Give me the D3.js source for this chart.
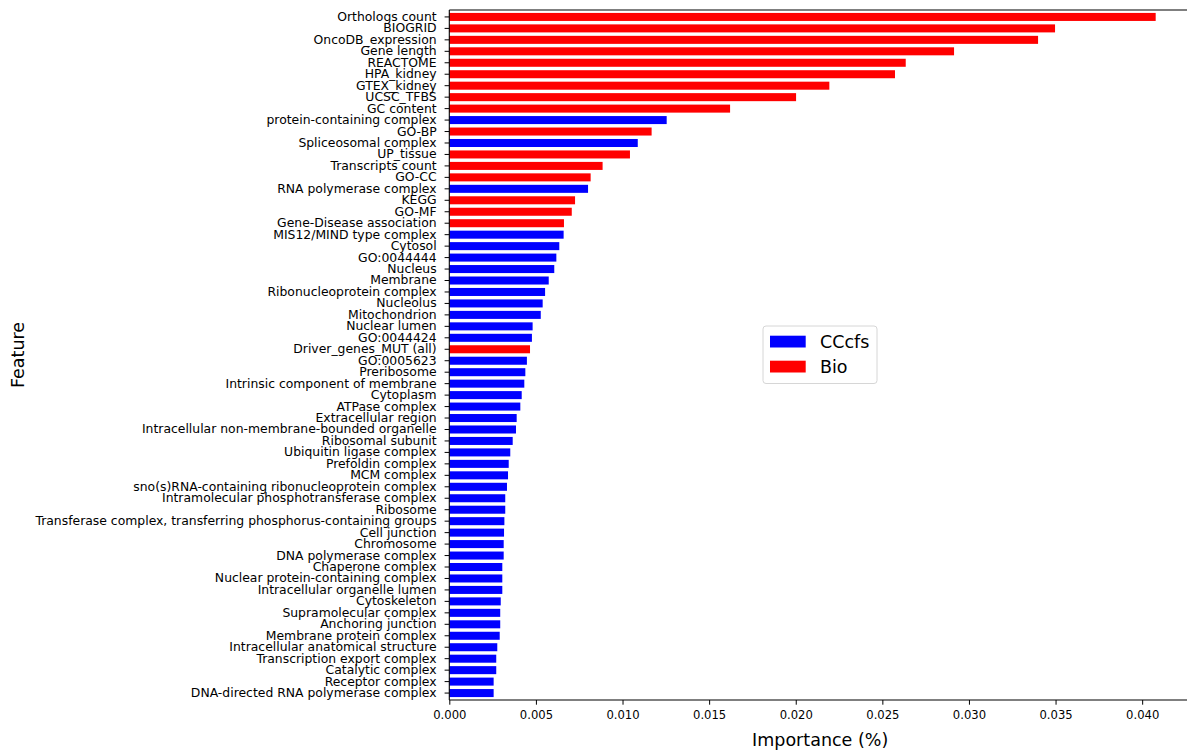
<!DOCTYPE html>
<html>
<head>
<meta charset="utf-8">
<script src="https://cdn.jsdelivr.net/npm/d3@7"></script>
<style>
    body { margin: 0; background: #fff; }
    svg { font-family: "DejaVu Sans", sans-serif; display: block; }
</style>
</head>
<body>
<svg id="chart"></svg>
<script>
const features = [
    'Orthologs count', 'BIOGRID', 'OncoDB_expression', 'Gene length', 'REACTOME',
    'HPA_kidney', 'GTEX_kidney', 'UCSC_TFBS', 'GC content', 'protein-containing complex',
    'GO-BP', 'Spliceosomal complex', 'UP_tissue', 'Transcripts count', 'GO-CC',
    'RNA polymerase complex', 'KEGG', 'GO-MF', 'Gene-Disease association', 'MIS12/MIND type complex',
    'Cytosol', 'GO:0044444', 'Nucleus', 'Membrane', 'Ribonucleoprotein complex',
    'Nucleolus', 'Mitochondrion', 'Nuclear lumen', 'GO:0044424', 'Driver_genes_MUT (all)',
    'GO:0005623', 'Preribosome', 'Intrinsic component of membrane', 'Cytoplasm', 'ATPase complex',
    'Extracellular region', 'Intracellular non-membrane-bounded organelle', 'Ribosomal subunit', 'Ubiquitin ligase complex', 'Prefoldin complex',
    'MCM complex', 'sno(s)RNA-containing ribonucleoprotein complex', 'Intramolecular phosphotransferase complex', 'Ribosome', 'Transferase complex, transferring phosphorus-containing groups',
    'Cell junction', 'Chromosome', 'DNA polymerase complex', 'Chaperone complex', 'Nuclear protein-containing complex',
    'Intracellular organelle lumen', 'Cytoskeleton', 'Supramolecular complex', 'Anchoring junction', 'Membrane protein complex',
    'Intracellular anatomical structure', 'Transcription export complex', 'Catalytic complex', 'Receptor complex', 'DNA-directed RNA polymerase complex'
];

const importance = [
    0.04078, 0.03497, 0.03399, 0.02914, 0.02635,
    0.02573, 0.02194, 0.02002, 0.01621, 0.01255,
    0.01168, 0.01088, 0.01043, 0.00885, 0.00816,
    0.00801, 0.00726, 0.00707, 0.00662, 0.00660,
    0.00635, 0.00618, 0.00606, 0.00574, 0.00553,
    0.00539, 0.00528, 0.00481, 0.00477, 0.00466,
    0.00448, 0.00439, 0.00433, 0.00418, 0.00410,
    0.00389, 0.00385, 0.00366, 0.00352, 0.00343,
    0.00339, 0.00333, 0.00323, 0.00323, 0.00318,
    0.00316, 0.00314, 0.00314, 0.00306, 0.00306,
    0.00306, 0.00297, 0.00294, 0.00294, 0.00291,
    0.00277, 0.00271, 0.00271, 0.00256, 0.00256
];

// B = Bio, C = CCcfs
const groups = 'BBBBBBBBBCBCBBBCBBBCCCCCCCCCCBCCCCCCCCCCCCCCCCCCCCCCCCCCCCCC'.split('');

const groupNames = ['CCcfs', 'Bio'];
const groupColors = ['#0000ff', '#ff0000'];
const xTicks = [0, 0.005, 0.010, 0.015, 0.020, 0.025, 0.030, 0.035, 0.040];

const data = features.map((f, i) => ({
    feature: f,
    value: importance[i],
    group: groups[i] === 'C' ? 'CCcfs' : 'Bio'
}));

const W = 1187, H = 752;
const frame = {left: 449.3, top: 10, bottom: 700, right: 1191};

const svg = d3.select('#chart')
    .attr('width', W)
    .attr('height', H);

const xscale = d3.scaleLinear()
    .domain([0, d3.max(importance) * 1.05])
    .range([frame.left, frame.right]);

const yscale = d3.scaleBand()
    .domain(features)
    .range([frame.top, frame.bottom])
    .paddingInner(0.3)
    .paddingOuter(0.255);

const color = d3.scaleOrdinal()
    .domain(groupNames)
    .range(groupColors);

// bars
svg.append('g')
    .selectAll('rect')
    .data(data)
    .join('rect')
    .attr('x', xscale(0))
    .attr('y', d => yscale(d.feature))
    .attr('width', d => xscale(d.value) - xscale(0))
    .attr('height', yscale.bandwidth())
    .attr('fill', d => color(d.group));

// axes
const xaxis = d3.axisBottom(xscale)
    .tickValues(xTicks)
    .tickFormat(d3.format('.3f'))
    .tickSize(4.7)
    .tickPadding(3.5)
    .tickSizeOuter(0);

const yaxis = d3.axisLeft(yscale)
    .tickSize(4.7)
    .tickPadding(8)
    .tickSizeOuter(0);

const xaxis_group = svg.append('g')
    .attr('transform', `translate(0, ${frame.bottom})`)
    .call(xaxis);

const yaxis_group = svg.append('g')
    .attr('transform', `translate(${frame.left}, 0)`)
    .call(yaxis);

[xaxis_group, yaxis_group].forEach(g => {
    g.select('.domain').remove();
    g.selectAll('.tick line').attr('stroke', '#000').attr('stroke-width', 1);
    g.selectAll('.tick text')
        .attr('fill', '#000')
        .style('font-family', '"DejaVu Sans", sans-serif');
});
xaxis_group.selectAll('.tick text').attr('dy', '0.95em').style('font-size', '11.6px');
yaxis_group.selectAll('.tick text').style('font-size', '12.4px');

// spines: left, bottom, top (right falls outside the picture)
const spines = svg.append('g')
    .attr('stroke', '#000')
    .attr('stroke-width', 1.1)
    .attr('fill', 'none');
spines.append('line').attr('x1', frame.left).attr('x2', frame.left).attr('y1', frame.top).attr('y2', frame.bottom);
spines.append('line').attr('x1', frame.left).attr('x2', frame.right).attr('y1', frame.bottom).attr('y2', frame.bottom);
spines.append('line').attr('x1', frame.left).attr('x2', frame.right).attr('y1', frame.top).attr('y2', frame.top);

// axis labels
svg.append('text')
    .attr('x', (frame.left + frame.right) / 2)
    .attr('y', 746)
    .attr('text-anchor', 'middle')
    .style('font-size', '17.5px')
    .text('Importance (%)');

svg.append('text')
    .attr('transform', `translate(24, ${(frame.top + frame.bottom) / 2}) rotate(-90)`)
    .attr('text-anchor', 'middle')
    .style('font-size', '17.5px')
    .text('Feature');

// legend
const legend = svg.append('g')
    .attr('transform', 'translate(763, 326)');

legend.append('rect')
    .attr('width', 114)
    .attr('height', 57.5)
    .attr('rx', 3)
    .attr('fill', '#fff')
    .attr('fill-opacity', 0.8)
    .attr('stroke', '#d6d6d6')
    .attr('stroke-width', 1);

const item = legend.selectAll('.item')
    .data(groupNames)
    .join('g')
    .attr('class', 'item')
    .attr('transform', (d, i) => `translate(7, ${9.7 + i * 25})`);

item.append('rect')
    .attr('width', 35.7)
    .attr('height', 11.8)
    .attr('fill', d => color(d));

item.append('text')
    .attr('x', 50)
    .attr('y', 6)
    .attr('dy', '0.35em')
    .style('font-size', '17.5px')
    .text(d => d);
</script>
</body>
</html>
